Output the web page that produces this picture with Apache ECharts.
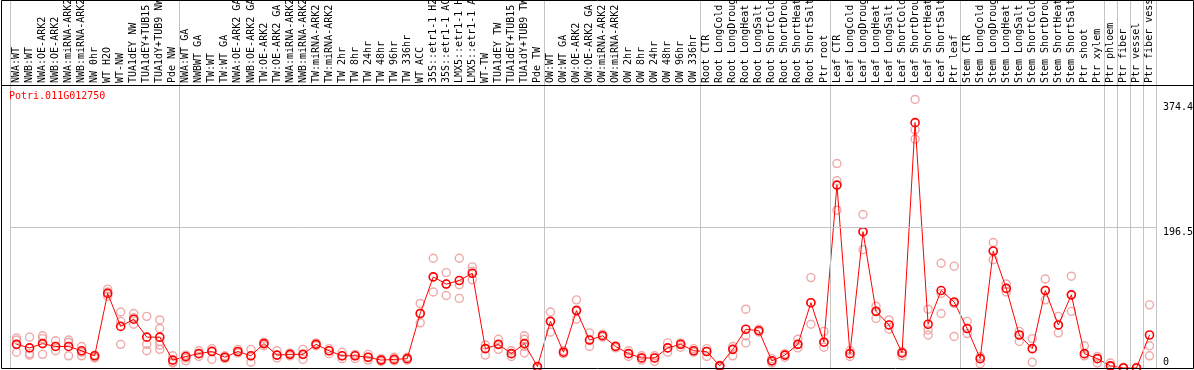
<!DOCTYPE html>
<html>
<head>
<meta charset="utf-8">
<script src="https://cdn.jsdelivr.net/npm/echarts@6/dist/echarts.min.js"></script>
<style>
  html, body { margin: 0; padding: 0; background: #fff; }
  #chart { width: 1194px; height: 370px; }
</style>
</head>
<body>
<div id="chart"></div>
<script>
const geneName = 'Potri.011G012750';

const categories = [
  'NWA:WT', 'NWB:WT', 'NWA:OE-ARK2', 'NWB:OE-ARK2', 'NWA:miRNA-ARK2', 'NWB:miRNA-ARK2', 'NW 0hr', 'WT H2O',
  'WT-NW', 'TUA1dEY NW', 'TUA1dEY+TUB15 NW', 'TUA1dY+TUB9 NW', 'Pde NW',
  'NWA:WT GA', 'NWBWT GA', 'TW:WT', 'TW:WT GA', 'NWA:OE-ARK2 GA', 'NWB:OE-ARK2 GA', 'TW:OE-ARK2', 'TW:OE-ARK2 GA',
  'NWA:miRNA-ARK2 GA', 'NWB:miRNA-ARK2 GA', 'TW:miRNA-ARK2', 'TW:miRNA-ARK2 GA', 'TW 2hr', 'TW 8hr', 'TW 24hr',
  'TW 48hr', 'TW 96hr', 'TW 336hr', 'WT ACC', '35S::etr1-1 H2O', '35S::etr1-1 ACC', 'LMX5::etr1-1 H2O',
  'LMX5::etr1-1 ACC', 'WT-TW', 'TUA1dEY TW', 'TUA1dEY+TUB15 TW', 'TUA1dY+TUB9 TW', 'Pde TW',
  'OW:WT', 'OW:WT GA', 'OW:OE-ARK2', 'OW:OE-ARK2 GA', 'OW:miRNA-ARK2', 'OW:miRNA-ARK2 GA', 'OW 2hr', 'OW 8hr',
  'OW 24hr', 'OW 48hr', 'OW 96hr', 'OW 336hr',
  'Root CTR', 'Root LongCold', 'Root LongDrought', 'Root LongHeat', 'Root LongSalt', 'Root ShortCold',
  'Root ShortDrought', 'Root ShortHeat', 'Root ShortSalt', 'Ptr root',
  'Leaf CTR', 'Leaf LongCold', 'Leaf LongDrought', 'Leaf LongHeat', 'Leaf LongSalt', 'Leaf ShortCold',
  'Leaf ShortDrought', 'Leaf ShortHeat', 'Leaf ShortSalt', 'Ptr leaf',
  'Stem CTR', 'Stem LongCold', 'Stem LongDrought', 'Stem LongHeat', 'Stem LongSalt', 'Stem ShortCold',
  'Stem ShortDrought', 'Stem ShortHeat', 'Stem ShortSalt', 'Ptr shoot', 'Ptr xylem',
  'Ptr phloem', 'Ptr fiber', 'Ptr vessel', 'Ptr fiber vessel'
];

// number of categories in each block between the grey separators
const groupSizes = [13, 28, 12, 10, 10, 11, 1, 1, 1, 1];

const meanValues = [
  33, 28, 34, 30, 30, 24, 17, 104, 58, 68, 43, 43, 11,
  16, 20, 23, 15, 23, 17, 34, 18, 19, 19, 33, 24, 17, 17, 15, 11, 12, 13, 76, 127, 117, 122, 132, 27, 33, 20, 34, 2,
  65, 22, 80, 39, 45, 30, 20, 14, 14, 28, 33, 24,
  23, 3, 26, 54, 52, 10, 18, 33, 91, 36,
  255, 20, 190, 79, 60, 21, 342, 61, 108, 92,
  55, 13, 163, 111, 46, 27, 108, 60, 102, 20, 13,
  3, 0, 0, 46
];

const replicateValues = [
  [42, 39, 22], [43, 20, 18], [45, 41, 19], [38, 30, 24], [39, 36, 17], [30, 22, 17], [18, 15, 14],
  [110, 106, 100], [78, 65, 33], [76, 70, 61], [72, 33, 24], [67, 55, 37, 32, 26], [17, 8, 7],
  [18, 14, 10], [24, 20, 16], [27, 24, 12], [17, 15, 13], [26, 23, 21], [26, 17, 8], [36, 34, 31],
  [24, 18, 14], [21, 19, 17], [26, 19, 12], [35, 33, 31], [27, 24, 20], [22, 17, 13], [19, 17, 13],
  [19, 15, 11], [13, 11, 9], [15, 12, 10], [15, 13, 11], [90, 76, 63], [153, 127, 106], [133, 117, 101],
  [153, 116, 97], [141, 135, 123], [32, 27, 18], [40, 33, 26], [24, 20, 16], [45, 40, 30, 21], [2, 1, 0],
  [78, 65, 50], [24, 22, 20], [95, 81, 68], [49, 39, 30], [47, 45, 43], [31, 30, 28], [24, 20, 16],
  [17, 14, 11], [17, 14, 9], [35, 28, 22], [35, 33, 29], [27, 24, 22],
  [27, 23, 16], [4, 3, 1], [30, 26, 17], [82, 45, 35], [54, 52, 50], [13, 10, 7], [20, 18, 15],
  [40, 33, 28], [126, 91, 61], [51, 36, 29],
  [285, 261, 220], [24, 20, 16], [214, 190, 165], [86, 79, 69], [67, 60, 54], [23, 21, 17],
  [374.4, 332, 319], [82, 53, 46], [146, 104, 76], [142, 90, 44],
  [65, 55, 48], [16, 13, 6], [175, 163, 151], [117, 111, 106], [51, 46, 37], [41, 27, 8], [124, 108, 95],
  [72, 60, 49], [128, 102, 79], [31, 20, 17], [16, 13, 7],
  [7, 3, 2], [1, 0, 0], [1, 0, 0], [88, 31, 17]
];

const yMarkValues = [374.4, 196.5, 0];
const yMarkLabels = ['374.4', '196.5', '0'];

const mono = 'DejaVu Sans Mono';
const yMax = yMarkValues[0] * 1.05;

const boundaries = [0];
groupSizes.forEach(n => boundaries.push(boundaries[boundaries.length - 1] + n));

const replicatePoints = [];
replicateValues.forEach((reps, i) => reps.forEach(v => replicatePoints.push([i, v])));

// vertical nudges so each value label sits where the original puts it
const markOffsets = [[0, 8], [0, 5], [0, -6]];

const chart = echarts.init(document.getElementById('chart'));
chart.setOption({
  animation: false,
  title: {
    text: geneName,
    left: 9,
    top: 91,
    padding: 0,
    textStyle: { color: '#ff0000', fontSize: 10, fontFamily: mono, fontWeight: 'normal' }
  },
  grid: [
    { left: 10, right: 38, top: 86, bottom: 2, outerBoundsMode: 'none', containLabel: false },
    { left: 10, right: 38, top: 0, bottom: 2, outerBoundsMode: 'none', containLabel: false }
  ],
  xAxis: [
    {
      type: 'category',
      data: categories,
      position: 'top',
      gridIndex: 0,
      boundaryGap: true,
      axisLine: { show: false },
      axisTick: { show: false },
      splitLine: { show: false },
      axisLabel: { interval: 0, rotate: 90, margin: 3, fontSize: 10, fontFamily: mono, color: '#000' }
    },
    { type: 'value', gridIndex: 1, min: 0, max: categories.length, show: false }
  ],
  yAxis: [
    { type: 'value', gridIndex: 0, min: 0, max: yMax, show: false },
    { type: 'value', gridIndex: 1, min: 0, max: 1, show: false }
  ],
  series: [
    {
      type: 'line',
      xAxisIndex: 1,
      yAxisIndex: 1,
      data: [],
      silent: true,
      markLine: {
        silent: true,
        symbol: 'none',
        label: { show: false },
        lineStyle: { color: '#c4c4c4', width: 1, type: 'solid' },
        data: boundaries.map(b => ({ xAxis: b }))
      }
    },
    {
      name: 'replicates',
      type: 'scatter',
      data: replicatePoints,
      symbol: 'circle',
      symbolSize: 8,
      itemStyle: { color: 'rgba(255,255,255,0)', borderColor: '#eb9494', borderWidth: 1.4 },
      z: 2
    },
    {
      name: 'mean',
      type: 'line',
      data: meanValues,
      symbol: 'circle',
      symbolSize: 8,
      showAllSymbol: true,
      lineStyle: { color: '#ff0000', width: 1 },
      itemStyle: { color: 'rgba(255,255,255,0)', borderColor: '#ff0000', borderWidth: 1.6 },
      z: 3,
      markLine: {
        silent: true,
        symbol: 'none',
        data: yMarkValues.map((v, i) => ({
          yAxis: i === 1 ? yMax / 2 : v,
          lineStyle: { color: i === 1 ? '#c4c4c4' : 'rgba(0,0,0,0)', width: 1, type: 'solid' },
          label: {
            show: true,
            position: 'end',
            distance: 7,
            formatter: yMarkLabels[i],
            color: '#000',
            fontSize: 10,
            fontFamily: mono,
            offset: markOffsets[i]
          }
        }))
      }
    }
  ],
  graphic: [
    {
      type: 'rect',
      z: 100,
      silent: true,
      shape: { x: 1.5, y: 0.5, width: 1192, height: 368 },
      style: { fill: 'none', stroke: '#000', lineWidth: 1 }
    },
    {
      type: 'line',
      z: 100,
      silent: true,
      shape: { x1: 1.5, y1: 85.5, x2: 1193.5, y2: 85.5 },
      style: { stroke: '#000', lineWidth: 1 }
    }
  ]
});
</script>
</body>
</html>
